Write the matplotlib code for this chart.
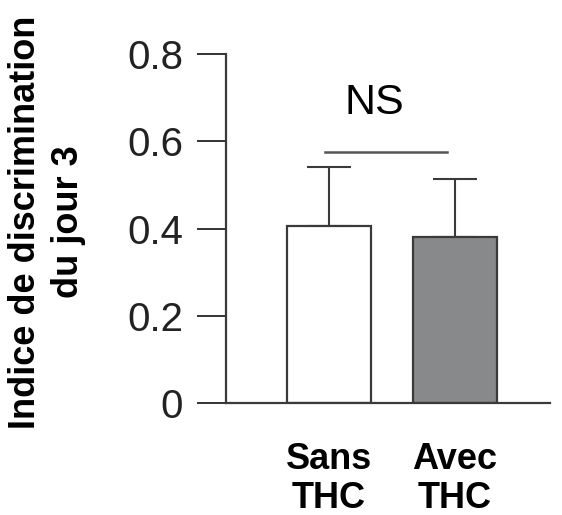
import numpy as np
from matplotlib import pyplot as plt

plt.rcParams['font.family'] = ['Liberation Sans', 'DejaVu Sans']

# values
groups = ['Sans\nTHC', 'Avec\nTHC']
means = [0.405, 0.380]
sem = [0.136, 0.133]
colors = ['white', '#87898b']
yticks = [0, 0.2, 0.4, 0.6, 0.8]
ytick_labels = ['0', '0.2', '0.4', '0.6', '0.8']
ns_y = 0.576

fig = plt.figure(figsize=(5.62, 5.15), dpi=100)
ax = fig.add_axes([226 / 562, 1 - 403 / 515, 324 / 562, 349 / 515])

x = np.arange(len(groups))
ax.bar(x, means, width=0.667, color=colors, edgecolor='#3a3a3a', linewidth=1.6, zorder=2)
# only the upper half of the error bar is drawn
ax.errorbar(x, means, yerr=[np.zeros(len(sem)), sem], fmt='none', ecolor='#3a3a3a',
            elinewidth=1.5, capsize=16, capthick=1.5, zorder=1)

ax.plot([-0.03, 0.94], [ns_y, ns_y], color='#555555', lw=1.8)
ax.text(0.36, 0.687, 'NS', ha='center', va='center', fontsize=31)

ax.set_xlim(-0.817, 1.754)
ax.set_ylim(0, 0.8)
ax.set_yticks(yticks)
ax.set_yticklabels(ytick_labels)
ax.set_xticks(x)
ax.set_xticklabels(groups, fontweight='bold', fontsize=26, linespacing=1.15)

ax.tick_params(axis='y', length=21, width=1.4, pad=10, labelsize=29, colors='#333333',
               labelcolor='#222222')
ax.tick_params(axis='x', length=0, pad=28)

for s in ['top', 'right']:
    ax.spines[s].set_visible(False)
for s in ['left', 'bottom']:
    ax.spines[s].set_linewidth(1.6)
    ax.spines[s].set_color('#3a3a3a')

fig.text(47 / 562, 1 - 222 / 515, 'Indice de discrimination\ndu jour 3', rotation=90,
         ha='center', va='center', multialignment='center', fontweight='bold',
         fontsize=26, linespacing=1.28)

fig.savefig('out.png', dpi=100)
